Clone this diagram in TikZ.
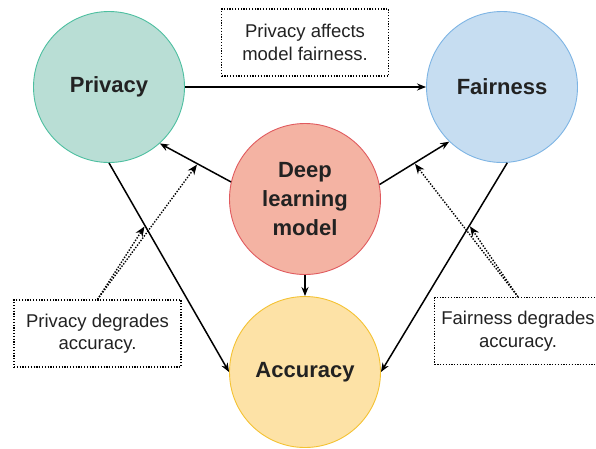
\documentclass[tikz,border=0pt]{standalone}
\usepackage{fontspec}
\setmainfont{Liberation Sans}
\usetikzlibrary{arrows.meta}
\definecolor{PrivFill}{HTML}{B9DED5}
\definecolor{PrivLine}{HTML}{4DBFA0}
\definecolor{FairFill}{HTML}{C6DDF1}
\definecolor{FairLine}{HTML}{7DB4E4}
\definecolor{ModelFill}{HTML}{F4B3A3}
\definecolor{ModelLine}{HTML}{E05A5E}
\definecolor{AccFill}{HTML}{FDE2A6}
\definecolor{AccLine}{HTML}{F4C232}
\definecolor{TextDark}{HTML}{222222}

\begin{document}
\begin{tikzpicture}[x=1pt,y=-1pt,
    topic/.style={circle,minimum size=151pt,inner sep=0pt,line width=0.9pt,align=center,
                  text=TextDark,font=\fontsize{22}{29}\selectfont\bfseries},
    note/.style={draw,dash pattern={on 1.2pt off 1.6pt},line width=1.2pt,fill=white,
                 minimum width=167pt,minimum height=67pt,
                 align=center,text=TextDark,font=\fontsize{18.5}{22.5}\selectfont},
    link/.style={-{Stealth[length=9pt,width=7pt]},line width=1.5pt},
    hint/.style={-{Stealth[length=10pt,width=8pt]},dash pattern={on 1.4pt off 1.5pt},
                 line width=1.4pt,shorten >=1pt}
  ]
  \useasboundingbox (0,0) rectangle (596,448);
  \clip (0,0) rectangle (596,448);
  \node[topic,draw=PrivLine,fill=PrivFill]   (priv)  at (109,87)  {Privacy};
  \node[topic,draw=FairLine,fill=FairFill]   (fair)  at (502,87)  {Fairness};
  \node[topic,draw=ModelLine,fill=ModelFill] (model) at (305,199) {Deep\\learning\\model};
  \node[topic,draw=AccLine,fill=AccFill]     (acc)   at (305,372) {Accuracy};

  \node[note] (pf) at (305,42.5)  {Privacy affects\\model fairness.};
  \node[note] (pa) at (97.5,333.5) {Privacy degrades\\accuracy.};
  \node[note] (fa) at (518,331)   {Fairness degrades\\accuracy.};

  \draw[link] (priv.east) -- (fair.west);
  \draw[link] (model.167) -- coordinate[pos=0.47] (mp) (priv.-48);
  \draw[link] (model.11) -- coordinate[pos=0.5] (mf) (fair.-134);
  \draw[link] (model.south) -- (acc.north);
  \draw[link] (priv.south) -- coordinate[pos=0.3] (pacc) (acc.west);
  \draw[link] (fair.-86) -- coordinate[pos=0.3] (facc) (acc.east);

  \draw[hint] (pa.north) -- (pacc);
  \draw[hint] (pa.north) -- (mp);
  \draw[hint] (fa.north) -- (facc);
  \draw[hint] (fa.north) -- (mf);
\end{tikzpicture}
\end{document}
